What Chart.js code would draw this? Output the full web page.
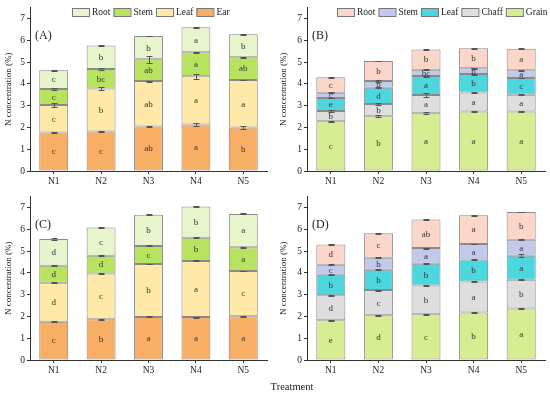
<!DOCTYPE html>
<html>
<head>
<meta charset="utf-8">
<script src="https://cdn.jsdelivr.net/npm/chart.js@4.4.1/dist/chart.umd.min.js"></script>
<style>
  body { margin: 0; background: #fff; }
  #fig { position: relative; width: 550px; height: 395px; overflow: hidden; }
  canvas { position: absolute; }
  #xtitle { position: absolute; left: 242px; width: 100px; top: 381px; text-align: center;
            font: 10.5px "Liberation Serif", serif; color: #222; }
</style>
</head>
<body>
<div id="fig">
  <canvas id="chartA" width="275" height="190" style="left:0;top:0"></canvas>
  <canvas id="chartB" width="275" height="190" style="left:275px;top:0"></canvas>
  <canvas id="chartC" width="275" height="190" style="left:0;top:189px"></canvas>
  <canvas id="chartD" width="275" height="190" style="left:275px;top:189px"></canvas>
  <div id="xtitle">Treatment</div>
</div>
<script>
const treatments = ["N1", "N2", "N3", "N4", "N5"];
const yTicks = [0, 1, 2, 3, 4, 5, 6, 7];

// organs from bottom of the stack to top
const organsAC = ["Ear", "Leaf", "Stem", "Root"];
const colorsAC = ["#f9ae66", "#fee9a8", "#b7e35f", "#e6f5cc"];
const organsBD = ["Grain", "Chaff", "Leaf", "Stem", "Root"];
const colorsBD = ["#d6ee91", "#dedede", "#4cd7df", "#c3c9eb", "#fcd6c9"];

// panel A
const earA = [1.77, 1.81, 2.04, 2.13, 2.00];
const leafA = [1.26, 1.98, 2.09, 2.22, 2.18];
const stemA = [0.74, 0.89, 1.00, 1.10, 1.05];
const rootA = [0.86, 1.08, 1.07, 1.15, 1.05];
const lettersA = [["c", "c", "ab", "a", "b"], ["c", "b", "ab", "a", "a"], ["c", "bc", "ab", "a", "ab"], ["c", "b", "b", "a", "b"]];
const errorsA = [[0.02, 0.02, 0.04, 0.07, 0.08], [0.08, 0.07, 0.02, 0.12, 0.02], [0.04, 0.04, 0.15, 0.03, 0.02], [0.02, 0.02, 0.02, 0.02, 0.02]];

// panel B
const grainB = [2.28, 2.52, 2.68, 2.73, 2.73];
const chaffB = [0.48, 0.56, 0.81, 0.88, 0.77];
const leafB = [0.59, 0.74, 0.87, 0.84, 0.77];
const stemB = [0.24, 0.31, 0.29, 0.27, 0.36];
const rootB = [0.72, 0.92, 0.93, 0.92, 0.98];
const lettersB = [["c", "b", "a", "a", "a"], ["b", "b", "a", "a", "a"], ["e", "d", "a", "b", "c"], ["c", "b", "bc", "b", "a"], ["c", "b", "b", "b", "a"]];
const errorsB = [[0.03, 0.05, 0.04, 0.02, 0.03], [0.06, 0.06, 0.1, 0.04, 0.03], [0.02, 0.02, 0.02, 0.02, 0.02], [0.03, 0.03, 0.03, 0.02, 0.03], [0.02, 0.02, 0.03, 0.02, 0.02]];

// panel C
const earC = [1.76, 1.87, 1.98, 1.97, 2.01];
const leafC = [1.79, 2.10, 2.43, 2.58, 2.08];
const stemC = [0.78, 0.82, 0.83, 1.06, 1.09];
const rootC = [1.23, 1.29, 1.43, 1.44, 1.53];
const lettersC = [["c", "b", "a", "a", "a"], ["d", "c", "b", "a", "c"], ["d", "d", "c", "b", "a"], ["d", "c", "b", "b", "a"]];
const errorsC = [[0.02, 0.02, 0.02, 0.02, 0.02], [0.02, 0.02, 0.02, 0.02, 0.02], [0.02, 0.02, 0.02, 0.02, 0.02], [0.03, 0.02, 0.02, 0.04, 0.02]];

// panel D
const grainD = [1.83, 2.05, 2.10, 2.18, 2.36];
const chaffD = [1.14, 1.16, 1.32, 1.43, 1.32];
const leafD = [0.95, 0.93, 1.00, 1.00, 1.11];
const stemD = [0.46, 0.56, 0.72, 0.72, 0.73];
const rootD = [0.92, 1.12, 1.31, 1.32, 1.28];
const lettersD = [["e", "d", "c", "b", "a"], ["d", "c", "b", "a", "b"], ["b", "b", "b", "b", "a"], ["c", "b", "a", "a", "a"], ["d", "c", "ab", "a", "b"]];
const errorsD = [[0.02, 0.02, 0.02, 0.02, 0.02], [0.02, 0.02, 0.02, 0.02, 0.02], [0.02, 0.02, 0.02, 0.02, 0.06], [0.02, 0.02, 0.02, 0.02, 0.02], [0.02, 0.02, 0.02, 0.02, 0.02]];

const SERIF = "'Liberation Serif', 'Times New Roman', serif";
const INK = "#222";

const segmentLetters = {
  id: "segmentLetters",
  afterDatasetsDraw(chart) {
    const ctx = chart.ctx;
    ctx.save();
    ctx.font = "9px " + SERIF;
    ctx.fillStyle = "#333";
    ctx.textAlign = "center";
    ctx.textBaseline = "middle";
    chart.data.datasets.forEach((ds, i) => {
      chart.getDatasetMeta(i).data.forEach((bar, j) => {
        ctx.fillText(ds.letters[j], bar.x, (bar.y + bar.base) / 2 + 0.5);
      });
    });
    ctx.restore();
  },
};

const errorBars = {
  id: "errorBars",
  afterDatasetsDraw(chart) {
    const ctx = chart.ctx;
    const y = chart.scales.y;
    const tops = treatments.map(() => 0);
    ctx.save();
    ctx.strokeStyle = "#555";
    ctx.lineWidth = 1;
    chart.data.datasets.forEach((ds, i) => {
      chart.getDatasetMeta(i).data.forEach((bar, j) => {
        tops[j] += ds.data[j];
        const hi = Math.round(y.getPixelForValue(tops[j] + ds.errors[j])) + 0.5;
        const lo = Math.round(y.getPixelForValue(tops[j] - ds.errors[j])) + 0.5;
        const x = Math.round(bar.x) + 0.5;
        ctx.beginPath();
        ctx.moveTo(x, hi); ctx.lineTo(x, lo);
        ctx.moveTo(x - 3, hi); ctx.lineTo(x + 3, hi);
        ctx.moveTo(x - 3, lo); ctx.lineTo(x + 3, lo);
        ctx.stroke();
      });
    });
    ctx.restore();
  },
};

const boxLegend = {
  id: "boxLegend",
  afterDraw(chart, args, opts) {
    if (!opts.show) return;
    const ctx = chart.ctx;
    let x = opts.x;
    const top = opts.y;
    ctx.save();
    ctx.font = "9.5px " + SERIF;
    ctx.textBaseline = "middle";
    chart.data.datasets.slice().reverse().forEach((ds) => {
      ctx.fillStyle = ds.backgroundColor;
      ctx.fillRect(x, top, 17, 8);
      ctx.strokeStyle = "#777";
      ctx.strokeRect(x + 0.5, top + 0.5, 17, 8);
      ctx.fillStyle = INK;
      ctx.fillText(ds.label, x + 20, top + 4.5);
      x += 20 + ctx.measureText(ds.label).width + 3;
    });
    ctx.restore();
  },
};

const panelLabel = {
  id: "panelLabel",
  afterDraw(chart, args, opts) {
    const ctx = chart.ctx;
    ctx.save();
    ctx.font = "12px " + SERIF;
    ctx.fillStyle = INK;
    ctx.textBaseline = "middle";
    ctx.fillText(opts.text, chart.chartArea.left + 5, chart.scales.y.getPixelForValue(6.22));
    ctx.restore();
  },
};

function buildChart(id, organs, colors, series, letters, errors, label, axisWidth, rightPad, legend) {
  return new Chart(document.getElementById(id), {
    type: "bar",
    data: {
      labels: treatments,
      datasets: organs.map((organ, i) => ({
        label: organ,
        data: series[i],
        letters: letters[i],
        errors: errors[i],
        backgroundColor: colors[i],
        borderColor: "#8a8a8a",
        borderWidth: 1,
        borderSkipped: false,
        barPercentage: 0.61,
        categoryPercentage: 1,
      })),
    },
    options: {
      responsive: false,
      animation: false,
      layout: { padding: { top: 6, right: rightPad, left: 0, bottom: 0 } },
      plugins: {
        legend: { display: false },
        tooltip: { enabled: false },
        boxLegend: legend,
        panelLabel: { text: label },
      },
      scales: {
        x: {
          stacked: true,
          afterFit: (scale) => { scale.height = 19; },
          border: { color: "#333", width: 1 },
          grid: { offset: false, drawOnChartArea: false, tickLength: 3, color: "#333" },
          ticks: { color: INK, font: { family: SERIF, size: 9.5 }, padding: 2 },
        },
        y: {
          stacked: true,
          min: 0,
          max: 7.5,
          afterBuildTicks: (scale) => { scale.ticks = yTicks.map((v) => ({ value: v })); },
          afterFit: (scale) => { scale.width = axisWidth; },
          border: { color: "#333", width: 1 },
          grid: { drawOnChartArea: false, tickLength: 3, color: "#333" },
          ticks: { color: INK, font: { family: SERIF, size: 9.5 }, padding: 2 },
          title: {
            display: true,
            text: "N concentration (%)",
            color: INK,
            font: { family: SERIF, size: 9 },
            padding: { top: 3, bottom: 0 },
          },
        },
      },
    },
    plugins: [segmentLetters, errorBars, boxLegend, panelLabel],
  });
}

buildChart("chartA", organsAC, colorsAC, [earA, leafA, stemA, rootA], lettersA, errorsA, "(A)", 30, 8, { show: true, x: 72, y: 8 });
buildChart("chartB", organsBD, colorsBD, [grainB, chaffB, leafB, stemB, rootB], lettersB, errorsB, "(B)", 32, 5, { show: true, x: 62, y: 8 });
buildChart("chartC", organsAC, colorsAC, [earC, leafC, stemC, rootC], lettersC, errorsC, "(C)", 30, 8, { show: false });
buildChart("chartD", organsBD, colorsBD, [grainD, chaffD, leafD, stemD, rootD], lettersD, errorsD, "(D)", 32, 5, { show: false });
</script>
</body>
</html>
